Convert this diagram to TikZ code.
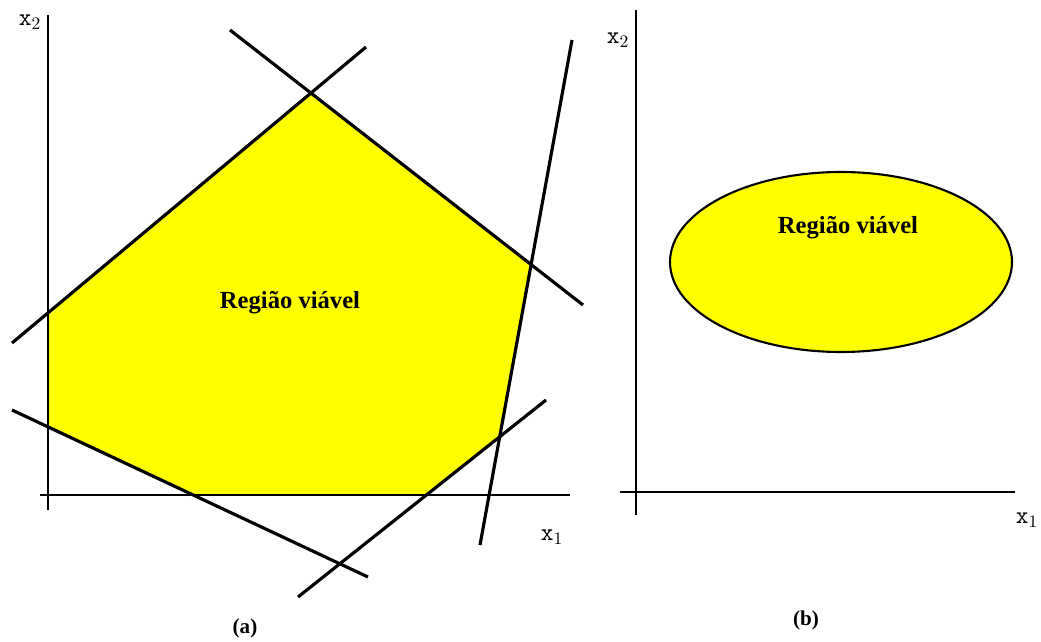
\documentclass[tikz,border=0pt]{standalone}
\usepackage{fontspec}
\setmainfont{Liberation Serif}
\definecolor{feasyellow}{RGB}{255,255,0}
\usetikzlibrary{positioning,calc}

\begin{document}
\begin{tikzpicture}[
  x=0.02cm, y=-0.02cm,
  axis/.style={line width=0.9pt,black},
  cons/.style={line width=1.8pt,black},
  region/.style={fill=feasyellow},
  axlabel/.style={font=\fontsize{14}{14}\ttfamily},
  reglabel/.style={font=\fontsize{14}{14}\bfseries},
  caption/.style={font=\fontsize{12}{12}\bfseries},
]
  \useasboundingbox (0,0) rectangle (1041,642);

  % (a) axes and constraint lines
  \coordinate (ya0) at (48,510);
  \coordinate (ya1) at (48,15);
  \coordinate (xa0) at (40,495);
  \coordinate (xa1) at (570,495);
  \coordinate (c1a) at (12,343);  \coordinate (c1b) at (366,47);
  \coordinate (c2a) at (230,30);  \coordinate (c2b) at (583,305);
  \coordinate (c3a) at (572,40);  \coordinate (c3b) at (480,545);
  \coordinate (c4a) at (298,597); \coordinate (c4b) at (546,400);
  \coordinate (c5a) at (12,410);  \coordinate (c5b) at (368,577);

  % (a) feasible polygon
  \fill[region] (intersection of ya0--ya1 and c1a--c1b)
    -- (intersection of c1a--c1b and c2a--c2b)
    -- (intersection of c2a--c2b and c3a--c3b)
    -- (intersection of c3a--c3b and c4a--c4b)
    -- (intersection of c4a--c4b and xa0--xa1)
    -- (intersection of xa0--xa1 and c5a--c5b)
    -- (intersection of c5a--c5b and ya0--ya1) -- cycle;

  \draw[axis] (ya0) -- (ya1);
  \draw[axis] (xa0) -- (xa1);
  \node[axlabel] (x2a) at (30,22) {x$_2$};
  \node[axlabel] (x1a) at (552,537) {x$_1$};

  \foreach \c in {c1,c2,c3,c4,c5}
    \draw[cons] (\c a) -- (\c b);

  \node[reglabel] (rega) at (290,303) {Região viável};
  \node[caption] (capa) at (245,628) {(a)};

  % (b) axes
  \coordinate (yb0) at (636,515);
  \coordinate (yb1) at (636,10);
  \coordinate (xb0) at (620,492);
  \coordinate (xb1) at (1015,492);
  \draw[axis] (yb0) -- (yb1);
  \draw[axis] (xb0) -- (xb1);
  \node[axlabel] (x2b) at (618,40) {x$_2$};
  \node[axlabel] (x1b) at (1027,520) {x$_1$};

  % (b) feasible ellipse
  \draw[region,line width=1.2pt] (841,262) ellipse [x radius=171, y radius=90];
  \node[reglabel] (regb) at (848,228) {Região viável};
  \node[caption] (capb) at (806,620) {(b)};
\end{tikzpicture}
\end{document}
